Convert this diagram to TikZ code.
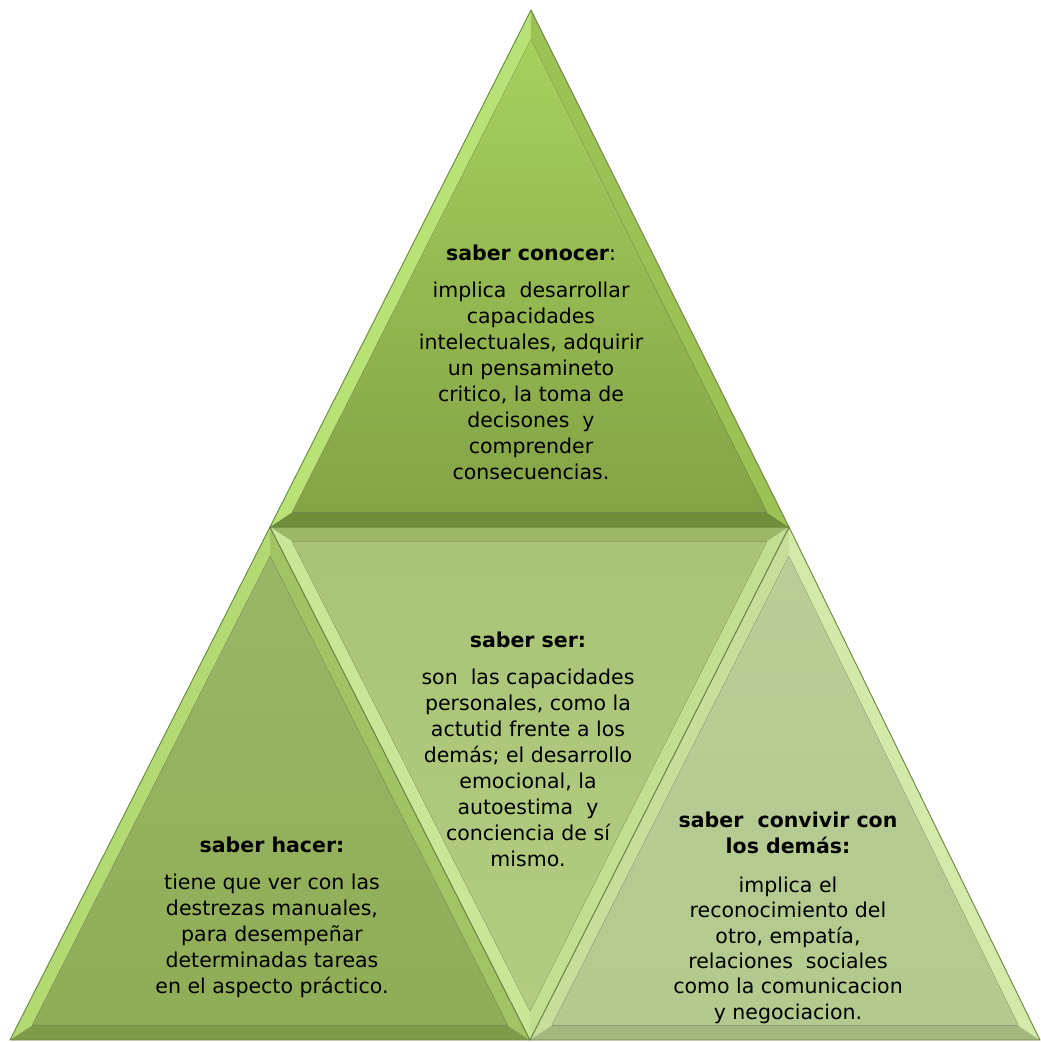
\documentclass[tikz,border=0pt]{standalone}
\usepackage{fontspec}
\setmainfont{DejaVu Sans}
\usetikzlibrary{calc, positioning}

\definecolor{frameline}{HTML}{6B8540}
\definecolor{topface}{HTML}{93B650}
\definecolor{topfacehi}{HTML}{A6D05E}
\definecolor{topfacelo}{HTML}{84A346}
\definecolor{topbevl}{HTML}{B9E276}
\definecolor{topbevb}{HTML}{6F8E39}
\definecolor{topbevr}{HTML}{9CC255}
\definecolor{hacerface}{HTML}{8FAD56}
\definecolor{hacerbevl}{HTML}{B3DA72}
\definecolor{hacerbevb}{HTML}{7E9B47}
\definecolor{hacerbevr}{HTML}{A1C364}
\definecolor{serface}{HTML}{AECA7A}
\definecolor{serbevt}{HTML}{9CB866}
\definecolor{serbevr}{HTML}{C2DE90}
\definecolor{serbevl}{HTML}{C9E697}
\definecolor{convface}{HTML}{B3C98D}
\definecolor{convbevl}{HTML}{C6DE9A}
\definecolor{convbevb}{HTML}{A2B87C}
\definecolor{convbevr}{HTML}{D3E9AA}

% bevelled facet: name, three corners, face fill, then the strips of edge 1-2, 2-3, 3-1
\newcommand{\bevelfacet}[8]{%
  \coordinate (#1g) at ($(#2)!2/3!($(#3)!.5!(#4)$)$);
  \coordinate (#1p) at ($(#2)!0.085!(#1g)$);
  \coordinate (#1q) at ($(#3)!0.085!(#1g)$);
  \coordinate (#1r) at ($(#4)!0.085!(#1g)$);
  \fill[#6] (#2) -- (#3) -- (#1q) -- (#1p) -- cycle;
  \fill[#7] (#3) -- (#4) -- (#1r) -- (#1q) -- cycle;
  \fill[#8] (#4) -- (#2) -- (#1p) -- (#1r) -- cycle;
  \fill[#5] (#1p) -- (#1q) -- (#1r) -- cycle;
  \draw[edge] (#2) -- (#3) -- (#4) -- cycle;
}

\begin{document}
\begin{tikzpicture}[
    x=1pt, y=-1pt,
    edge/.style={draw=frameline, line width=0.9pt, line join=round},
    heading/.style={anchor=north, align=center, inner sep=0pt,
      font=\fontsize{20.5}{26}\selectfont\bfseries},
    body/.style={anchor=north, align=center, inner sep=0pt,
      font=\fontsize{20.5}{26}\selectfont},
    node distance=21pt
]
\useasboundingbox (0,0) rectangle (1041,1042);

\coordinate (top) at (531,10);
\coordinate (midl) at (270,527);
\coordinate (midr) at (789,527);
\coordinate (botl) at (10,1040);
\coordinate (botm) at (530,1040);
\coordinate (botr) at (1040,1040);

% the four facets
\bevelfacet{hc}{midl}{botl}{botm}{top color=hacerface!90!white, bottom color=hacerface}%
  {fill=hacerbevl}{fill=hacerbevb}{fill=hacerbevr}
\bevelfacet{cv}{midr}{botm}{botr}{top color=convface!92!white, bottom color=convface}%
  {fill=convbevl}{fill=convbevb}{fill=convbevr}
\bevelfacet{sr}{midl}{midr}{botm}{top color=serface!97!black, bottom color=serface!95!white}%
  {fill=serbevt}{fill=serbevr}{fill=serbevl}
\bevelfacet{cn}{top}{midl}{midr}{top color=topfacehi, bottom color=topfacelo}%
  {fill=topbevl}{fill=topbevb}{fill=topbevr}

% texts
\node[heading] (conocer) at (531,244.5) {saber conocer{\mdseries:}};
\node[body, below=of conocer] (conocerText) {implica~ desarrollar\\capacidades\\intelectuales, adquirir\\un pensamineto\\critico, la toma de\\decisones~ y\\comprender\\consecuencias.};

\node[heading] (ser) at (528,631.5) {saber ser:};
\node[body, below=of ser] (serText) {son~ las capacidades\\personales, como la\\actutid frente a los\\demás; el desarrollo\\emocional, la\\autoestima~ y\\conciencia de sí\\mismo.};

\node[heading] (hacer) at (272,836.5) {saber hacer:};
\node[body, below=of hacer] (hacerText) {tiene que ver con las\\destrezas manuales,\\para desempeñar\\determinadas tareas\\en el aspecto práctico.};

\node[heading] (convivir) at (788,811.5) {saber~ convivir con\\los demás:};
\node[body, below=23pt of convivir, font=\fontsize{20.5}{25.3}\selectfont] (convivirText) {implica el\\reconocimiento del\\otro, empatía,\\relaciones~ sociales\\como la comunicacion\\y negociacion.};

\end{tikzpicture}
\end{document}
